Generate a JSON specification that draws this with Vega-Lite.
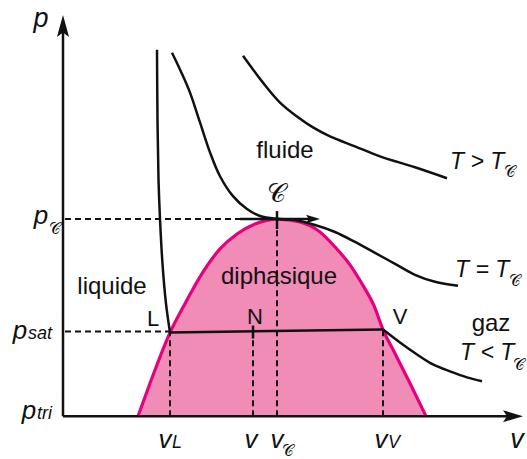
{
  "$schema": "https://vega.github.io/schema/vega-lite/v6.json",
  "width": 527,
  "height": 459,
  "padding": 0,
  "autosize": {"type": "fit", "contains": "padding"},
  "background": "#ffffff",
  "config": {"view": {"stroke": null}, "font": "Liberation Sans"},
  "datasets": {
    "dome": [
      {"v": 75, "p": 0}, {"v": 87, "p": 33}, {"v": 107, "p": 84}, {"v": 122, "p": 113},
      {"v": 137, "p": 140}, {"v": 157, "p": 168}, {"v": 174, "p": 183}, {"v": 192, "p": 193},
      {"v": 214, "p": 198}, {"v": 237, "p": 195}, {"v": 257, "p": 185}, {"v": 272, "p": 170},
      {"v": 287, "p": 152}, {"v": 299, "p": 133}, {"v": 311, "p": 111}, {"v": 320, "p": 87},
      {"v": 332, "p": 63}, {"v": 347, "p": 33}, {"v": 363, "p": 0}
    ],
    "isothermes": [
      {"courbe": "liq", "i": 0, "v": 94, "p": 368}, {"courbe": "liq", "i": 1, "v": 94.5, "p": 298},
      {"courbe": "liq", "i": 2, "v": 95.5, "p": 238}, {"courbe": "liq", "i": 3, "v": 97, "p": 198},
      {"courbe": "liq", "i": 4, "v": 99.5, "p": 153}, {"courbe": "liq", "i": 5, "v": 103, "p": 113},
      {"courbe": "liq", "i": 6, "v": 107, "p": 84},
      {"courbe": "gaz", "i": 0, "v": 320, "p": 87}, {"courbe": "gaz", "i": 1, "v": 337, "p": 74},
      {"courbe": "gaz", "i": 2, "v": 354, "p": 62}, {"courbe": "gaz", "i": 3, "v": 370, "p": 52},
      {"courbe": "gaz", "i": 4, "v": 387, "p": 45}, {"courbe": "gaz", "i": 5, "v": 404, "p": 39},
      {"courbe": "gaz", "i": 6, "v": 419, "p": 35},
      {"courbe": "crit", "i": 0, "v": 109, "p": 365}, {"courbe": "crit", "i": 1, "v": 118, "p": 346},
      {"courbe": "crit", "i": 2, "v": 127, "p": 325}, {"courbe": "crit", "i": 3, "v": 137, "p": 295},
      {"courbe": "crit", "i": 4, "v": 147, "p": 265}, {"courbe": "crit", "i": 5, "v": 157, "p": 241},
      {"courbe": "crit", "i": 6, "v": 170, "p": 221}, {"courbe": "crit", "i": 7, "v": 184, "p": 208},
      {"courbe": "crit", "i": 8, "v": 197, "p": 201}, {"courbe": "crit", "i": 9, "v": 214, "p": 198},
      {"courbe": "crit", "i": 10, "v": 232, "p": 197}, {"courbe": "crit", "i": 11, "v": 252, "p": 192},
      {"courbe": "crit", "i": 12, "v": 272, "p": 185}, {"courbe": "crit", "i": 13, "v": 292, "p": 175},
      {"courbe": "crit", "i": 14, "v": 312, "p": 164}, {"courbe": "crit", "i": 15, "v": 332, "p": 153},
      {"courbe": "crit", "i": 16, "v": 352, "p": 142}, {"courbe": "crit", "i": 17, "v": 372, "p": 135},
      {"courbe": "crit", "i": 18, "v": 395, "p": 131},
      {"courbe": "haute", "i": 0, "v": 180, "p": 362}, {"courbe": "haute", "i": 1, "v": 200, "p": 335},
      {"courbe": "haute", "i": 2, "v": 217, "p": 315}, {"courbe": "haute", "i": 3, "v": 234, "p": 301},
      {"courbe": "haute", "i": 4, "v": 250, "p": 290}, {"courbe": "haute", "i": 5, "v": 267, "p": 281},
      {"courbe": "haute", "i": 6, "v": 292, "p": 271}, {"courbe": "haute", "i": 7, "v": 317, "p": 261},
      {"courbe": "haute", "i": 8, "v": 352, "p": 250}, {"courbe": "haute", "i": 9, "v": 384, "p": 239}
    ],
    "traits": [
      {"nom": "axe p", "v": 0, "p": 0, "v2": 0, "p2": 394},
      {"nom": "axe v", "v": 0, "p": 0, "v2": 450, "p2": 0},
      {"nom": "palier", "v": 107, "p": 84, "v2": 320, "p2": 87},
      {"nom": "tangente", "v": 177, "p": 198, "v2": 250, "p2": 198},
      {"nom": "C", "v": 214, "p": 188, "v2": 214, "p2": 206},
      {"nom": "N", "v": 190, "p": 78, "v2": 190, "p2": 91}
    ],
    "tirets": [
      {"nom": "pC", "v": 2, "p": 198, "v2": 214, "p2": 198},
      {"nom": "psat", "v": 2, "p": 85, "v2": 107, "p2": 85},
      {"nom": "vL", "v": 107, "p": 0, "v2": 107, "p2": 84},
      {"nom": "v", "v": 190, "p": 0, "v2": 190, "p2": 80},
      {"nom": "vC", "v": 214, "p": 0, "v2": 214, "p2": 188},
      {"nom": "vV", "v": 320, "p": 0, "v2": 320, "p2": 87}
    ],
    "fleche_p": [{"v": 0, "p": 392}],
    "fleche_v": [{"v": 450, "p": 0}],
    "fleche_C": [{"v": 250, "p": 198}],
    "axes_noms": [
      {"t": "p", "v": -22, "p": 391},
      {"t": "v", "v": 454, "p": -32}
    ],
    "graduations": [
      {"t": "p", "v": -22, "p": 193},
      {"t": "p", "v": -43, "p": 78},
      {"t": "p", "v": -34, "p": -3},
      {"t": "v", "v": 102, "p": -32},
      {"t": "v", "v": 188, "p": -32},
      {"t": "v", "v": 214, "p": -32},
      {"t": "v", "v": 318, "p": -32}
    ],
    "indices": [
      {"t": "sat", "v": -35, "p": 78},
      {"t": "tri", "v": -26, "p": -3},
      {"t": "L", "v": 109, "p": -32},
      {"t": "V", "v": 325, "p": -32}
    ],
    "temperatures": [
      {"t": "T > T", "v": 387, "p": 248},
      {"t": "T = T", "v": 392, "p": 140},
      {"t": "T < T", "v": 397, "p": 56}
    ],
    "indices_C": [
      {"t": "𝒞", "v": 441, "p": 240},
      {"t": "𝒞", "v": 446, "p": 131},
      {"t": "𝒞", "v": 450, "p": 46},
      {"t": "𝒞", "v": -14, "p": 183},
      {"t": "𝒞", "v": 219, "p": -40}
    ],
    "point_C": [{"t": "𝒞", "v": 213, "p": 215}],
    "domaines": [
      {"t": "fluide", "v": 222, "p": 259},
      {"t": "diphasique", "v": 216, "p": 133},
      {"t": "liquide", "v": 49, "p": 123},
      {"t": "gaz", "v": 428, "p": 86}
    ],
    "points": [
      {"t": "L", "v": 90, "p": 91},
      {"t": "N", "v": 192, "p": 93},
      {"t": "V", "v": 337, "p": 93}
    ]
  },
  "layer": [
    {
      "data": {"name": "dome"},
      "mark": {"type": "area", "color": "#f08cb6", "interpolate": "monotone"},
      "encoding": {
        "x": {"field": "v", "type": "quantitative", "scale": {"domain": [-63, 464], "nice": false, "zero": false}, "axis": null},
        "y": {"field": "p", "type": "quantitative", "scale": {"domain": [-41, 418], "nice": false, "zero": false}, "axis": null},
        "y2": {"datum": 0}
      }
    },
    {
      "data": {"name": "dome"},
      "mark": {"type": "line", "color": "#e5007d", "strokeWidth": 3.2, "interpolate": "monotone"},
      "encoding": {
        "x": {"field": "v", "type": "quantitative", "scale": {"domain": [-63, 464], "nice": false, "zero": false}, "axis": null},
        "y": {"field": "p", "type": "quantitative", "scale": {"domain": [-41, 418], "nice": false, "zero": false}, "axis": null}
      }
    },
    {
      "data": {"name": "tirets"},
      "mark": {"type": "rule", "color": "#111111", "strokeWidth": 2, "strokeDash": [6, 4]},
      "encoding": {
        "x": {"field": "v", "type": "quantitative", "scale": {"domain": [-63, 464], "nice": false, "zero": false}, "axis": null},
        "y": {"field": "p", "type": "quantitative", "scale": {"domain": [-41, 418], "nice": false, "zero": false}, "axis": null},
        "x2": {"field": "v2"},
        "y2": {"field": "p2"}
      }
    },
    {
      "data": {"name": "isothermes"},
      "mark": {"type": "line", "color": "#111111", "strokeWidth": 2.5, "interpolate": "catmull-rom"},
      "encoding": {
        "x": {"field": "v", "type": "quantitative", "scale": {"domain": [-63, 464], "nice": false, "zero": false}, "axis": null},
        "y": {"field": "p", "type": "quantitative", "scale": {"domain": [-41, 418], "nice": false, "zero": false}, "axis": null},
        "detail": {"field": "courbe"},
        "order": {"field": "i"}
      }
    },
    {
      "data": {"name": "traits"},
      "mark": {"type": "rule", "color": "#111111", "strokeWidth": 2.5},
      "encoding": {
        "x": {"field": "v", "type": "quantitative", "scale": {"domain": [-63, 464], "nice": false, "zero": false}, "axis": null},
        "y": {"field": "p", "type": "quantitative", "scale": {"domain": [-41, 418], "nice": false, "zero": false}, "axis": null},
        "x2": {"field": "v2"},
        "y2": {"field": "p2"}
      }
    },
    {
      "data": {"name": "fleche_p"},
      "mark": {"type": "point", "shape": "M0,-1L0.55,1L0,0.6L-0.55,1Z", "size": 484, "filled": true, "color": "#111111", "opacity": 1},
      "encoding": {
        "x": {"field": "v", "type": "quantitative", "scale": {"domain": [-63, 464], "nice": false, "zero": false}, "axis": null},
        "y": {"field": "p", "type": "quantitative", "scale": {"domain": [-41, 418], "nice": false, "zero": false}, "axis": null}
      }
    },
    {
      "data": {"name": "fleche_v"},
      "mark": {"type": "point", "shape": "M1,0L-1,-0.6L-0.6,0L-1,0.6Z", "size": 400, "filled": true, "color": "#111111", "opacity": 1},
      "encoding": {
        "x": {"field": "v", "type": "quantitative", "scale": {"domain": [-63, 464], "nice": false, "zero": false}, "axis": null},
        "y": {"field": "p", "type": "quantitative", "scale": {"domain": [-41, 418], "nice": false, "zero": false}, "axis": null}
      }
    },
    {
      "data": {"name": "fleche_C"},
      "mark": {"type": "point", "shape": "M1,0L-1,-0.6L-0.6,0L-1,0.6Z", "size": 196, "filled": true, "color": "#111111", "opacity": 1},
      "encoding": {
        "x": {"field": "v", "type": "quantitative", "scale": {"domain": [-63, 464], "nice": false, "zero": false}, "axis": null},
        "y": {"field": "p", "type": "quantitative", "scale": {"domain": [-41, 418], "nice": false, "zero": false}, "axis": null}
      }
    },
    {
      "data": {"name": "axes_noms"},
      "mark": {"type": "text", "font": "Liberation Sans", "fontStyle": "italic", "fontSize": 27, "align": "center", "baseline": "alphabetic", "color": "#111111"},
      "encoding": {
        "x": {"field": "v", "type": "quantitative", "scale": {"domain": [-63, 464], "nice": false, "zero": false}, "axis": null},
        "y": {"field": "p", "type": "quantitative", "scale": {"domain": [-41, 418], "nice": false, "zero": false}, "axis": null},
        "text": {"field": "t"}
      }
    },
    {
      "data": {"name": "graduations"},
      "mark": {"type": "text", "font": "Liberation Sans", "fontStyle": "italic", "fontSize": 26, "align": "center", "baseline": "alphabetic", "color": "#111111"},
      "encoding": {
        "x": {"field": "v", "type": "quantitative", "scale": {"domain": [-63, 464], "nice": false, "zero": false}, "axis": null},
        "y": {"field": "p", "type": "quantitative", "scale": {"domain": [-41, 418], "nice": false, "zero": false}, "axis": null},
        "text": {"field": "t"}
      }
    },
    {
      "data": {"name": "indices"},
      "mark": {"type": "text", "font": "Liberation Sans", "fontStyle": "italic", "fontSize": 18, "align": "left", "baseline": "alphabetic", "color": "#111111"},
      "encoding": {
        "x": {"field": "v", "type": "quantitative", "scale": {"domain": [-63, 464], "nice": false, "zero": false}, "axis": null},
        "y": {"field": "p", "type": "quantitative", "scale": {"domain": [-41, 418], "nice": false, "zero": false}, "axis": null},
        "text": {"field": "t"}
      }
    },
    {
      "data": {"name": "temperatures"},
      "mark": {"type": "text", "font": "Liberation Sans", "fontStyle": "italic", "fontSize": 23, "align": "left", "baseline": "alphabetic", "color": "#111111"},
      "encoding": {
        "x": {"field": "v", "type": "quantitative", "scale": {"domain": [-63, 464], "nice": false, "zero": false}, "axis": null},
        "y": {"field": "p", "type": "quantitative", "scale": {"domain": [-41, 418], "nice": false, "zero": false}, "axis": null},
        "text": {"field": "t"}
      }
    },
    {
      "data": {"name": "indices_C"},
      "mark": {"type": "text", "fontSize": 16, "align": "left", "baseline": "alphabetic", "color": "#111111"},
      "encoding": {
        "x": {"field": "v", "type": "quantitative", "scale": {"domain": [-63, 464], "nice": false, "zero": false}, "axis": null},
        "y": {"field": "p", "type": "quantitative", "scale": {"domain": [-41, 418], "nice": false, "zero": false}, "axis": null},
        "text": {"field": "t"}
      }
    },
    {
      "data": {"name": "point_C"},
      "mark": {"type": "text", "fontSize": 26, "align": "center", "baseline": "alphabetic", "color": "#111111"},
      "encoding": {
        "x": {"field": "v", "type": "quantitative", "scale": {"domain": [-63, 464], "nice": false, "zero": false}, "axis": null},
        "y": {"field": "p", "type": "quantitative", "scale": {"domain": [-41, 418], "nice": false, "zero": false}, "axis": null},
        "text": {"field": "t"}
      }
    },
    {
      "data": {"name": "domaines"},
      "mark": {"type": "text", "font": "Liberation Sans", "fontSize": 24, "align": "center", "baseline": "alphabetic", "color": "#111111"},
      "encoding": {
        "x": {"field": "v", "type": "quantitative", "scale": {"domain": [-63, 464], "nice": false, "zero": false}, "axis": null},
        "y": {"field": "p", "type": "quantitative", "scale": {"domain": [-41, 418], "nice": false, "zero": false}, "axis": null},
        "text": {"field": "t"}
      }
    },
    {
      "data": {"name": "points"},
      "mark": {"type": "text", "font": "Liberation Sans", "fontSize": 22, "align": "center", "baseline": "alphabetic", "color": "#111111"},
      "encoding": {
        "x": {"field": "v", "type": "quantitative", "scale": {"domain": [-63, 464], "nice": false, "zero": false}, "axis": null},
        "y": {"field": "p", "type": "quantitative", "scale": {"domain": [-41, 418], "nice": false, "zero": false}, "axis": null},
        "text": {"field": "t"}
      }
    }
  ]
}
